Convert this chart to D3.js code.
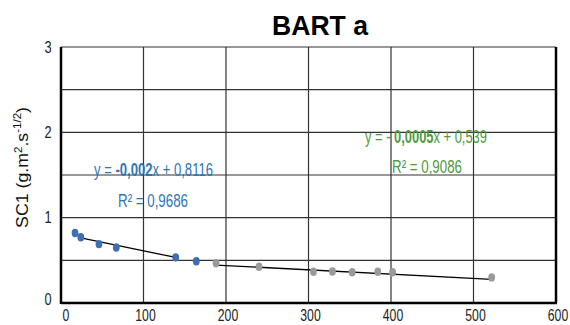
<!DOCTYPE html>
<html lang="fr">
<head>
<meta charset="UTF-8">
<title>BART a</title>
<script src="https://cdn.jsdelivr.net/npm/d3@7/dist/d3.min.js"></script>
<style>
  body { margin: 0; background: #fff; }
  text { font-family: "Liberation Sans", Arial, sans-serif; }
</style>
</head>
<body>
<script>
// points
var blueX = [17, 24, 46, 67, 139, 164];
var blueY = [0.82, 0.77, 0.69, 0.65, 0.535, 0.49];
var grayX = [188, 240, 306, 329, 353, 384, 402, 522];
var grayY = [0.465, 0.425, 0.367, 0.37, 0.36, 0.367, 0.36, 0.30];

// courbes de tendance (debut, fin, pente, ordonnee)
var trendX1 = [24, 139], trend1 = [-0.002, 0.8116];
var trendX2 = [188, 522], trend2 = [-0.0005, 0.539];

var xTicks = [0, 100, 200, 300, 400, 500, 600];
var yTicks = [0, 1, 2, 3];
var yGrid = [0.5, 1, 1.5, 2, 2.5, 3];

var W = 570, H = 325;
var svg = d3.select("body").append("svg")
    .attr("width", W)
    .attr("height", H);

var x = d3.scaleLinear().domain([0, 600]).range([61, 556]);
var y = d3.scaleLinear().domain([0, 3]).range([303, 47]);

// texte etroit : on resserre horizontalement pour imiter la police d'origine
function narrow(sel, cx, cy, sx, rot) {
    sel.attr("x", 0).attr("y", 0).attr("text-anchor", "middle")
       .attr("transform", "translate(" + cx + "," + cy + ")" + (rot ? " rotate(" + rot + ")" : "") + " scale(" + sx + ",1)");
    return sel;
}
function fit(sel, cx, cy, width, rot) {
    var w = sel.node().getComputedTextLength();
    return narrow(sel, cx, cy, width / w, rot);
}

// grille
svg.append("g").selectAll("line").data(yGrid).enter().append("line")
    .attr("x1", x(0)).attr("x2", x(600))
    .attr("y1", d => y(d)).attr("y2", d => y(d))
    .style("stroke", "#333").style("stroke-width", 1.2);
svg.append("g").selectAll("line").data(xTicks.slice(1)).enter().append("line")
    .attr("x1", d => x(d)).attr("x2", d => x(d))
    .attr("y1", y(0)).attr("y2", y(3))
    .style("stroke", d => d == 600 ? "#000" : "#333")
    .style("stroke-width", d => d == 600 ? 2.5 : 1.2);

// axes
svg.append("line").attr("x1", x(0)).attr("x2", x(0)).attr("y1", y(0) + 1).attr("y2", y(3))
    .style("stroke", "#000").style("stroke-width", 2.5);
svg.append("line").attr("x1", x(0)).attr("x2", x(600) + 1).attr("y1", y(0)).attr("y2", y(0))
    .style("stroke", "#000").style("stroke-width", 2.5);

xTicks.forEach(function(d) {
    var t = svg.append("text").style("font-size", "17px").style("fill", "#222").text(d);
    narrow(t, x(d) + (d == 0 ? 5 : 2), 320.5, 0.72);
});
yTicks.forEach(function(d) {
    var t = svg.append("text").style("font-size", "17px").style("fill", "#222").text(d);
    narrow(t, 48, y(d) + (d == 0 ? 2 : 5.5), 0.75);
});

// tendances
var line = d3.line().x(d => x(d[0])).y(d => y(d[1]));
[[trendX1, trend1], [trendX2, trend2]].forEach(function(t) {
    var pts = t[0].map(v => [v, t[1][0] * v + t[1][1]]);
    svg.append("path").attr("d", line(pts))
        .style("fill", "none").style("stroke", "#000").style("stroke-width", 1.3);
});

// points
svg.append("g").selectAll("ellipse").data(d3.range(blueX.length)).enter().append("ellipse")
    .attr("cx", i => x(blueX[i])).attr("cy", i => y(blueY[i]))
    .attr("rx", 3.4).attr("ry", 4.2)
    .style("fill", "#3e6eb4");
svg.append("g").selectAll("ellipse").data(d3.range(grayX.length)).enter().append("ellipse")
    .attr("cx", i => x(grayX[i])).attr("cy", i => y(grayY[i]))
    .attr("rx", 3.4).attr("ry", 4.2)
    .style("fill", "#9a9a9a");

// titre
var title = svg.append("text")
    .style("font-weight", "bold").style("font-size", "28px")
    .text("BART a");
fit(title, 320, 35, 96);

// titre axe y
var yl = svg.append("text").style("font-size", "17px").style("fill", "#111");
yl.append("tspan").text("SC1 (g.m");
yl.append("tspan").text("2").attr("dy", -6).style("font-size", "11px");
yl.append("tspan").text(".s").attr("dy", 6);
yl.append("tspan").text("-1/2").attr("dy", -7).style("font-size", "11px");
yl.append("tspan").text(")").attr("dy", 7);
fit(yl, 28, 167.5, 121, -90);

// equations
var blue = "#2e75b6", green = "#4e9a3e";
var eq1 = svg.append("text").style("font-size", "18px").style("fill", blue);
eq1.append("tspan").text("y = ");
eq1.append("tspan").text("-0,002").style("font-weight", "bold");
eq1.append("tspan").text("x + 0,8116");
fit(eq1, 153.5, 176, 119);
var r1 = svg.append("text").style("font-size", "18px").style("fill", blue).text("R² = 0,9686");
fit(r1, 153, 207, 70);

var eq2 = svg.append("text").style("font-size", "18px").style("fill", green);
eq2.append("tspan").text("y = - ");
eq2.append("tspan").text("0,0005").style("font-weight", "bold");
eq2.append("tspan").text("x + 0,539");
fit(eq2, 426, 143, 122);
var r2 = svg.append("text").style("font-size", "18px").style("fill", green).text("R² = 0,9086");
fit(r2, 427, 173, 70);
</script>
</body>
</html>
